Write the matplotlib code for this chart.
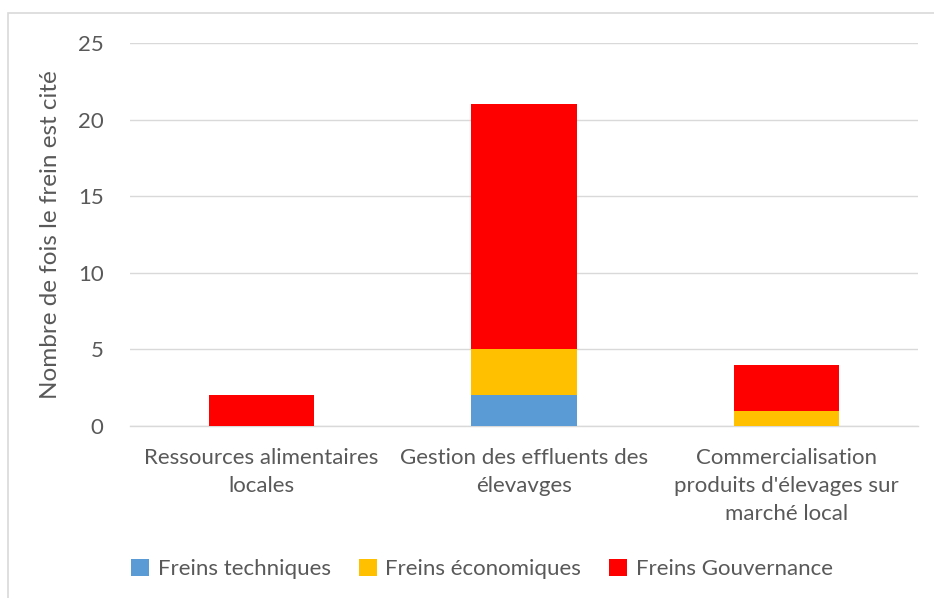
import matplotlib.pyplot as plt
import matplotlib.patches as mpatches
import numpy as np

plt.rcParams['font.family'] = ['Lato', 'DejaVu Sans']

categories = ["Ressources alimentaires\nlocales",
              "Gestion des effluents des\nélevavges",
              "Commercialisation\nproduits d'élevages sur\nmarché local"]
series = {
    'Freins techniques': np.array([0, 2, 0]),
    'Freins économiques': np.array([0, 3, 1]),
    'Freins Gouvernance': np.array([2, 16, 3]),
}
colors = ['#5B9BD5', '#FFC000', '#FF0000']
yticks = [0, 5, 10, 15, 20, 25]

fig = plt.figure(figsize=(9.34, 5.98), dpi=100)
W, H = 934, 598
ax = fig.add_axes([130 / W, 1 - 426 / H, 788 / W, 383 / H])

# chart area border (clipped by figure edge)
fig.patches.append(mpatches.Rectangle((8 / W, -0.05), 1.1, 1 - 13 / H + 0.05,
                                      transform=fig.transFigure, fill=False,
                                      edgecolor='#D9D9D9', linewidth=1.2))

x = np.arange(len(categories))
bottom = np.zeros(len(categories))
for (name, vals), c in zip(series.items(), colors):
    ax.bar(x, vals, 0.4, bottom=bottom, color=c, label=name, zorder=3)
    bottom += vals

ax.set_xlim(-0.5, 2.5)
ax.set_ylim(0, 25)
ax.set_yticks(yticks)
ax.grid(axis='y', color='#D9D9D9', linewidth=1, zorder=0)
for s in ['top', 'right', 'left']:
    ax.spines[s].set_visible(False)
ax.spines['bottom'].set_color('#D9D9D9')
ax.spines['bottom'].set_linewidth(1)
ax.tick_params(length=0, labelsize=16, labelcolor='#595959')
ax.tick_params(axis='y', pad=19)
ax.tick_params(axis='x', pad=16)
ax.set_xticks(x, categories)
for t in ax.get_xticklabels():
    t.set_linespacing(1.5)
ax.set_ylabel('Nombre de fois le frein est cité', fontsize=17.5, color='#595959',
              labelpad=12)

fig.legend(loc='center', bbox_to_anchor=(482 / W, 1 - 569 / H), ncol=3,
           frameon=False, fontsize=16, labelcolor='#595959', handlelength=0.8,
           handleheight=0.8, columnspacing=1.25, handletextpad=0.4)

fig.savefig('out.png', dpi=100)
